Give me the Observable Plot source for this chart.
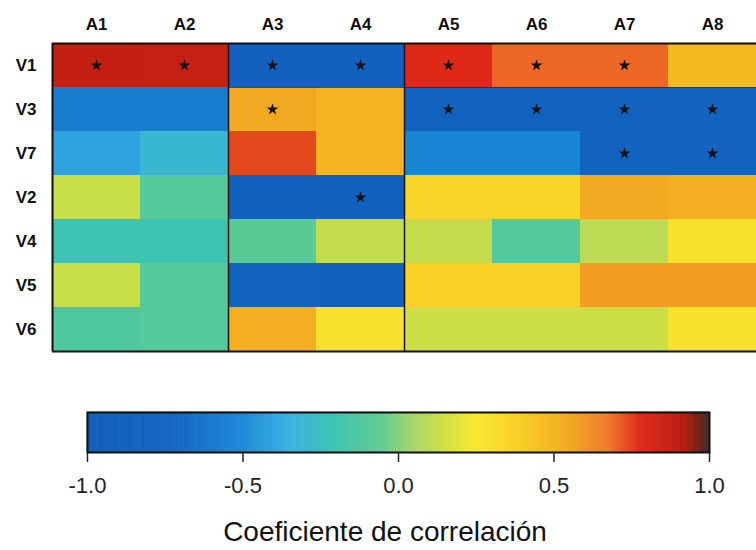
<!DOCTYPE html>
<html>
<head>
<meta charset="utf-8">
<script src="https://cdn.jsdelivr.net/npm/d3@7"></script>
<script src="https://cdn.jsdelivr.net/npm/@observablehq/plot@0.6"></script>
<style>
  body { margin: 0; background: white; }
  #wrap { width: 756px; }
  #title { font: 28px "Liberation Sans", Arial, sans-serif; color: #111; text-align: center; padding-left: 14px; margin-top: 18px; line-height: 28px; }
  svg { display: block; }
</style>
</head>
<body>
<div id="wrap"></div>
<script>
// ---- data ----
const cols = ["A1", "A2", "A3", "A4", "A5", "A6", "A7", "A8"];
const rows = ["V1", "V3", "V7", "V2", "V4", "V5", "V6"];
const vV1 = [0.88, 0.87, -0.85, -0.85, 0.78, 0.70, 0.70, 0.48];
const vV3 = [-0.58, -0.58, 0.55, 0.50, -0.82, -0.82, -0.82, -0.78];
const vV7 = [-0.40, -0.30, 0.74, 0.50, -0.52, -0.52, -0.80, -0.78];
const vV2 = [0.13, -0.10, -0.85, -0.85, 0.35, 0.35, 0.55, 0.52];
const vV4 = [-0.20, -0.20, -0.08, 0.12, 0.12, -0.10, 0.10, 0.28];
const vV5 = [0.13, -0.10, -0.82, -0.85, 0.38, 0.38, 0.58, 0.58];
const vV6 = [-0.12, -0.10, 0.52, 0.28, 0.14, 0.14, 0.14, 0.28];
const significant = [
  ["V1", "A1"], ["V1", "A2"], ["V1", "A3"], ["V1", "A4"], ["V1", "A5"], ["V1", "A6"], ["V1", "A7"],
  ["V3", "A3"], ["V3", "A5"], ["V3", "A6"], ["V3", "A7"], ["V3", "A8"],
  ["V7", "A7"], ["V7", "A8"],
  ["V2", "A4"]
];
const colorStops = [-1, -0.7, -0.5, -0.35, -0.2, -0.05, 0.05, 0.15, 0.25, 0.4, 0.55, 0.68, 0.78, 0.92, 0.97, 1];
const colorRange = ["#0f5cb8", "#1466c4", "#1a8ad6", "#38b0e0", "#3cc4b0", "#60cc90", "#a8d468", "#d0e040",
                    "#f8e830", "#f8cc24", "#f2a820", "#f07828", "#e02818", "#b81c10", "#702010", "#303030"];
const legendTicks = [-1, -0.5, 0, 0.5, 1];
const legendTitle = "Coeficiente de correlación";

// ---- build ----
const values = [vV1, vV3, vV7, vV2, vV4, vV5, vV6];
const cells = rows.flatMap((r, i) => values[i].map((v, j) => ({row: r, col: cols[j], x1: j, x2: j + 1, y1: i, y2: i + 1, v})));
const stars = significant.map(([r, c]) => ({x: cols.indexOf(c) + 0.5, y: rows.indexOf(r) + 0.5}));
const colorOpts = {type: "linear", domain: colorStops, range: colorRange, interpolate: "rgb", clamp: true};
const font = "'Liberation Sans', Arial, sans-serif";

const heat = Plot.plot({
  width: 756, height: 370,
  marginTop: 43, marginLeft: 52, marginRight: 0, marginBottom: 19,
  x: {domain: [0, cols.length], axis: null},
  y: {domain: [0, rows.length], reverse: true, axis: null},
  color: colorOpts,
  style: {fontFamily: font, background: "white", color: "#111"},
  marks: [
    Plot.rect(cells, {x1: "x1", x2: "x2", y1: "y1", y2: "y2", fill: "v", shapeRendering: "crispEdges"}),
    Plot.ruleY([1], {x1: 2, x2: 8, stroke: "#222", strokeWidth: 1, strokeOpacity: 0.7}),
    Plot.ruleX([2, 4], {y1: 0, y2: rows.length, stroke: "#111", strokeWidth: 1.5}),
    Plot.ruleY([0, rows.length], {x1: 0, x2: cols.length, stroke: "#111", strokeWidth: 2}),
    Plot.ruleX([0], {y1: 0, y2: rows.length, stroke: "#111", strokeWidth: 2}),
    Plot.dot(stars, {x: "x", y: "y", symbol: "star", r: 3.7, fill: "#151515", stroke: null}),
    Plot.axisX(cols.map((d, i) => i + 0.5), {anchor: "top", tickSize: 0, tickPadding: 14,
      tickFormat: d => cols[Math.floor(d)], fontSize: 17, fontWeight: "bold", label: null}),
    Plot.axisY(rows.map((d, i) => i + 0.5), {anchor: "left", tickSize: 0, tickPadding: 16,
      tickFormat: d => rows[Math.floor(d)], fontSize: 17, fontWeight: "bold", label: null})
  ]
});

const step = 0.005;
const grad = d3.range(-1, 1, step);
const bar = Plot.plot({
  width: 756, height: 130,
  marginTop: 42, marginBottom: 48, marginLeft: 87, marginRight: 47,
  x: {domain: [-1, 1], axis: null},
  y: {domain: [0, 1], axis: null},
  color: colorOpts,
  style: {fontFamily: font, background: "white", color: "#222"},
  marks: [
    Plot.rect(grad, {x1: d => d, x2: d => d + step, y1: 0, y2: 1,
      fill: d => d + step / 2, stroke: d => d + step / 2, strokeWidth: 0.6}),
    Plot.frame({stroke: "#111", strokeWidth: 2}),
    Plot.axisX(legendTicks, {anchor: "bottom", tickSize: 10, tickPadding: 15, strokeWidth: 1.5,
      tickFormat: d => d.toFixed(1), fontSize: 22, label: null})
  ]
});

const wrap = document.getElementById("wrap");
wrap.append(heat, bar);
const t = document.createElement("div");
t.id = "title";
t.textContent = legendTitle;
wrap.append(t);
</script>
</body>
</html>
